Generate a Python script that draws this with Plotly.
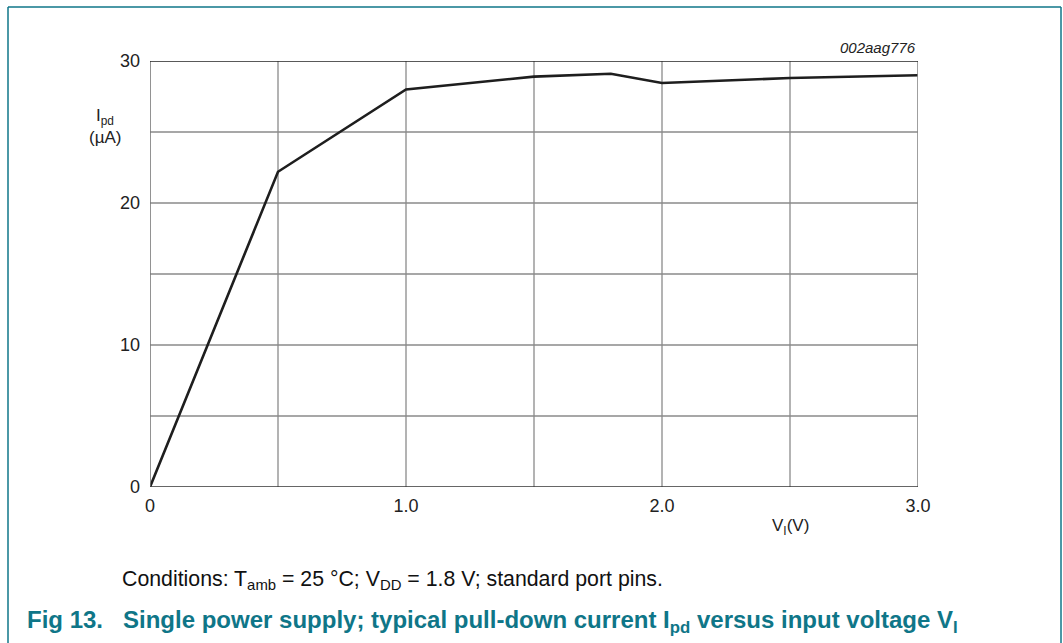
import plotly.graph_objects as go

# Data
v_in = [0, 0.5, 1.0, 1.5, 1.8, 2.0, 2.5, 3.0]
i_pd = [0, 22.2, 28.0, 28.9, 29.1, 28.45, 28.8, 29.0]

x_tickvals = [0, 1.0, 2.0, 3.0]
x_ticktext = ["0", "1.0", "2.0", "3.0"]
y_tickvals = [0, 10, 20, 30]
y_ticktext = ["0", "10", "20", "30"]

W, H = 1063, 643
L, R, T, B = 150, 145, 61, 156
PW, PH = W - L - R, H - T - B

def px(x):
    return (x - L) / PW

def py(y):
    return (H - B - y) / PH

FONT = "Liberation Sans, Arial, sans-serif"
TEAL = "#0f7688"
GRID = "#8a8a8a"

fig = go.Figure()
fig.add_trace(go.Scatter(x=v_in, y=i_pd, mode="lines",
                         line=dict(color="#1e1e1e", width=2.6),
                         showlegend=False, hoverinfo="skip"))

fig.update_xaxes(range=[0, 3], tickvals=x_tickvals, ticktext=x_ticktext,
                 showgrid=False, zeroline=False, showline=False,
                 ticks="", tickfont=dict(family=FONT, size=18, color="#222"),
                 ticklabelstandoff=6)
fig.update_yaxes(range=[0, 30], tickvals=y_tickvals, ticktext=y_ticktext,
                 showgrid=False, zeroline=False, showline=False,
                 ticks="", tickfont=dict(family=FONT, size=18, color="#222"),
                 ticklabelstandoff=9)

shapes = []
# grid lines
for xv in [0.5, 1.0, 1.5, 2.0, 2.5]:
    shapes.append(dict(type="line", xref="x", yref="y", x0=xv, x1=xv, y0=0, y1=30,
                       line=dict(color=GRID, width=1.3), layer="below"))
for yv in [5, 10, 15, 20, 25]:
    shapes.append(dict(type="line", xref="x", yref="y", x0=0, x1=3, y0=yv, y1=yv,
                       line=dict(color=GRID, width=1.3), layer="below"))
# frame
shapes.append(dict(type="line", xref="x", yref="y", x0=0, x1=0, y0=0, y1=30,
                   line=dict(color="#777", width=1.6)))
shapes.append(dict(type="line", xref="x", yref="y", x0=3, x1=3, y0=0, y1=30,
                   line=dict(color="#888", width=1.6)))
shapes.append(dict(type="line", xref="x", yref="y", x0=0, x1=3, y0=30, y1=30,
                   line=dict(color="#222", width=1.3)))
shapes.append(dict(type="line", xref="x", yref="y", x0=0, x1=3, y0=0, y1=0,
                   line=dict(color="#333", width=1.6)))
# outer teal border
shapes.append(dict(type="line", xref="paper", yref="paper", x0=px(8), x1=px(8), y0=py(7), y1=py(660),
                   line=dict(color=TEAL, width=1.5)))
shapes.append(dict(type="line", xref="paper", yref="paper", x0=px(1061), x1=px(1061), y0=py(7), y1=py(660),
                   line=dict(color=TEAL, width=1.5)))
shapes.append(dict(type="line", xref="paper", yref="paper", x0=px(8), x1=px(1061), y0=py(7), y1=py(7),
                   line=dict(color=TEAL, width=1.5)))

def ann(x, y, text, size, color="#222", xanchor="center"):
    return dict(x=px(x), y=py(y), xref="paper", yref="paper", text=text,
                showarrow=False, xanchor=xanchor, yanchor="middle",
                font=dict(family=FONT, size=size, color=color))

annotations = [
    ann(105, 117, "I<sub>pd</sub>", 17),
    ann(105, 137, "(µA)", 17),
    ann(790, 527, "V<sub>I</sub>(V)", 17),
    ann(918, 48, "<i>002aag776</i>", 15, xanchor="right"),
    ann(120, 580, "Conditions: T<sub>amb</sub> = 25 °C; V<sub>DD</sub> = 1.8 V; standard port pins.",
        21.3, color="#111", xanchor="left"),
    ann(25, 621, "<b>Fig 13.   Single power supply; typical pull-down current I<sub>pd</sub> versus input voltage V<sub>I</sub></b>",
        24, color=TEAL, xanchor="left"),
]

fig.update_layout(width=W, height=H, margin=dict(l=L, r=R, t=T, b=B),
                  paper_bgcolor="white", plot_bgcolor="white",
                  shapes=shapes, annotations=annotations)

fig.write_html("out.html")
